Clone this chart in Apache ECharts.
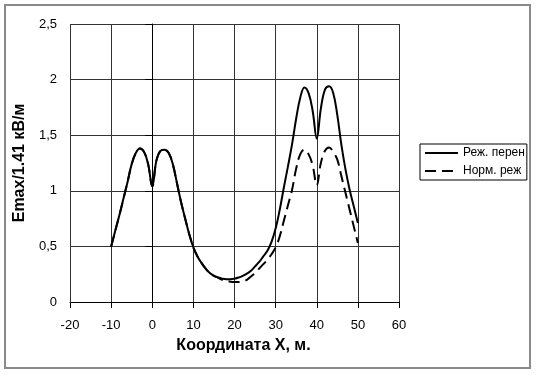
<!DOCTYPE html>
<html>
<head>
<meta charset="utf-8">
<script src="https://cdn.jsdelivr.net/npm/echarts@6/dist/echarts.min.js"></script>
<style>
html,body{margin:0;padding:0;background:#fff;}
#chart{width:537px;height:375px;}
</style>
</head>
<body>
<div id="chart"></div>
<script>
var xValues = [-10,-9,-8,-7,-6,-5,-4,-3,-2,-1,0,1,2,3,4,5,6,7,8,9,10,11,12,13,14,15,16,17,18,19,20,21,22,23,24,25,26,27,28,29,30,31,32,33,34,35,36,37,38,39,40,41,42,43,44,45,46,47,48,49,50];
var solidValues = [0.50,0.64,0.78,0.93,1.08,1.24,1.34,1.38,1.35,1.24,1.04,1.27,1.36,1.37,1.34,1.24,1.07,0.90,0.75,0.61,0.49,0.41,0.35,0.30,0.26,0.235,0.22,0.21,0.205,0.205,0.21,0.22,0.235,0.255,0.28,0.32,0.36,0.41,0.46,0.54,0.66,0.83,1.03,1.22,1.42,1.65,1.84,1.93,1.88,1.72,1.47,1.74,1.91,1.94,1.88,1.68,1.41,1.19,1.01,0.86,0.71];
var dashedValues = [0.50,0.64,0.78,0.93,1.08,1.24,1.34,1.38,1.35,1.24,1.04,1.27,1.36,1.37,1.34,1.24,1.07,0.90,0.75,0.61,0.49,0.41,0.35,0.30,0.26,0.235,0.22,0.20,0.19,0.183,0.18,0.18,0.19,0.20,0.23,0.26,0.30,0.34,0.38,0.43,0.49,0.59,0.73,0.87,1.01,1.20,1.33,1.37,1.33,1.23,1.05,1.25,1.36,1.39,1.35,1.28,1.13,0.98,0.83,0.68,0.53];
var seriesNames = ['Реж. перен', 'Норм. реж'];
var xAxisTitle = 'Координата X, м.';
var yAxisTitle = 'Emax/1.41 кВ/м';

function pairs(xs, ys){ return xs.map(function(x,i){ return [x, ys[i]]; }); }

var font = 'Liberation Sans, Arial, sans-serif';
var chart = echarts.init(document.getElementById('chart'), null, {renderer:'canvas'});
chart.setOption({
  animation:false,
  backgroundColor:'#fff',
  graphic:[{type:'rect', shape:{x:5,y:5,width:525,height:363}, style:{fill:'none', stroke:'#8a8a8a', lineWidth:2}, z:-1}],
  grid:{left:70, right:138, top:24, bottom:73},
  legend:{
    left:420, top:144, orient:'vertical',
    borderColor:'#000', borderWidth:1, padding:[3,2,3,4],
    itemWidth:33, itemHeight:14, itemGap:6,
    itemStyle:{opacity:0},
    textStyle:{fontFamily:font, fontSize:12, color:'#000'},
    data:seriesNames
  },
  xAxis:{
    type:'value', min:-20, max:60, interval:10,
    name:xAxisTitle, nameLocation:'middle', nameGap:36,
    nameTextStyle:{fontFamily:font, fontSize:16, fontWeight:'bold', color:'#000', padding:[0,0,0,18]},
    axisLine:{onZero:false, lineStyle:{color:'#000', width:1}},
    axisTick:{show:true, inside:false, length:6, lineStyle:{color:'#000'}},
    axisLabel:{fontFamily:font, fontSize:13, color:'#000', margin:17},
    splitLine:{show:true, lineStyle:{color:'#333', width:1}}
  },
  yAxis:{
    type:'value', min:0, max:2.5, interval:0.5,
    name:yAxisTitle, nameLocation:'middle', nameGap:35, nameRotate:90,
    nameTextStyle:{fontFamily:font, fontSize:16, fontWeight:'bold', color:'#000'},
    axisLine:{show:true, lineStyle:{color:'#000', width:1}},
    axisTick:{show:true, inside:false, length:7, lineStyle:{color:'#000'}},
    axisLabel:{fontFamily:font, fontSize:13, color:'#000', margin:13,
      formatter:function(v){ return String(v).replace('.', ','); }},
    splitLine:{show:true, lineStyle:{color:'#333', width:1}}
  },
  series:[
    {name:seriesNames[0], type:'line', data:pairs(xValues, solidValues), smooth:0.4, symbol:'none',
     lineStyle:{color:'#000', width:2, type:'solid'}, itemStyle:{color:'#000'}},
    {name:seriesNames[1], type:'line', data:pairs(xValues, dashedValues), smooth:0.4, symbol:'none',
     lineStyle:{color:'#000', width:2, type:[11,6]}, itemStyle:{color:'#000'}}
  ]
});
</script>
</body>
</html>
